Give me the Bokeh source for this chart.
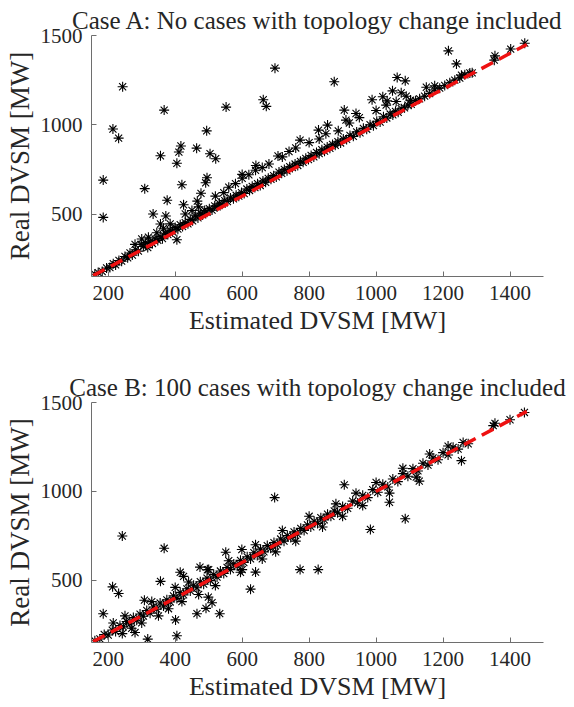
from bokeh.plotting import figure
from bokeh.layouts import column
from bokeh.models import Range1d, FixedTicker
from bokeh.embed import file_html
from bokeh.resources import INLINE

# ---------------- data ----------------
titles = ["Case A: No cases with topology change included",
          "Case B: 100 cases with topology change included"]
x_label = "Estimated DVSM [MW]"
y_label = "Real DVSM [MW]"
x_ticks = [200, 400, 600, 800, 1000, 1200, 1400]
y_ticks = [500, 1000, 1500]
diag_x = [155, 1450]
diag_y = [155, 1450]

# Case A: estimated (x) and real (y)
a_est = [243, 698, 875, 1216, 1240, 663, 672, 552, 367, 214, 231, 494, 417, 411, 405,
         464, 504, 521, 356, 185, 185, 309, 420, 495, 491, 477, 466, 376, 425, 334,
         372, 356, 405, 580, 600, 641, 707, 773, 828, 855, 887, 905, 910, 940, 988,
         1020, 1033, 1049, 1063, 1087, 1075, 1103, 1175, 1255, 1287, 1355, 1353, 1402, 1444,
         160, 170, 182, 195, 205, 215, 222, 232, 240, 250, 258, 265, 272, 282, 290,
         298, 305, 312, 318, 325, 332, 340, 348, 355, 362, 370, 378, 385, 392, 400,
         408, 415, 422, 430, 438, 445, 452, 460, 468, 475, 482, 488, 495, 502, 510,
         518, 525, 532, 540, 548, 556, 565, 574, 582, 590, 598, 606, 614, 622, 630,
         638, 646, 654, 662, 670, 678, 686, 694, 702, 710, 718, 726, 734, 742, 750,
         758, 766, 774, 782, 790, 798, 806, 814, 822, 830, 838, 846, 854, 862, 870,
         878, 886, 894, 902, 912, 922, 932, 942, 952, 962, 972, 982, 992, 1002, 1012,
         1022, 1032, 1042, 1050, 1058, 1066, 1075, 1085, 1095, 1105, 1118, 1130, 1145, 1160, 1175,
         1190, 1205, 1220, 1235, 1250, 1265, 1280,
         280, 300, 320, 345, 365, 385, 430, 450, 470, 520, 545, 560, 600, 620, 640,
         660, 680, 720, 740, 760, 800, 830, 850, 920, 950, 1000, 1030, 1060, 1090, 1150]
a_real = [1213, 1317, 1241, 1414, 1341, 1140, 1103, 1099, 1082, 976, 925, 966, 881, 847, 784,
          869, 838, 810, 826, 690, 481, 642, 664, 703, 675, 616, 572, 577, 552, 500,
          489, 444, 356, 670, 722, 772, 825, 914, 970, 998, 966, 1082, 1026, 1063, 1140,
          1157, 1134, 1190, 1265, 1246, 1179, 1138, 1218, 1278, 1291, 1386, 1362, 1424, 1457,
          163, 172, 178, 198, 200, 222, 215, 240, 236, 262, 255, 282, 270, 300, 292,
          330, 318, 340, 312, 345, 335, 360, 352, 375, 362, 392, 385, 410, 400, 425,
          415, 440, 430, 452, 445, 470, 462, 490, 478, 505, 495, 520, 510, 530, 522,
          545, 540, 560, 555, 575, 570, 590, 585, 605, 600, 620, 615, 640, 632, 655,
          648, 670, 660, 685, 678, 700, 695, 715, 708, 735, 728, 750, 742, 765, 760,
          780, 772, 795, 790, 812, 805, 828, 820, 845, 838, 860, 852, 875, 868, 890,
          885, 905, 898, 920, 918, 940, 935, 960, 955, 980, 975, 1000, 995, 1020, 1015,
          1045, 1038, 1060, 1055, 1075, 1070, 1090, 1095, 1110, 1115, 1135, 1145, 1160, 1175, 1195,
          1205, 1220, 1235, 1250, 1262, 1280, 1290,
          330, 360, 370, 395, 420, 445, 500, 520, 540, 600, 620, 650, 700, 720, 745,
          760, 780, 820, 850, 870, 900, 920, 950, 1010, 1040, 1080, 1110, 1130, 1160, 1210]

# Case B: estimated (x) and real (y)
b_est = [242, 367, 697, 905, 983, 1087, 1040, 1255, 1129, 773, 827, 625, 640, 595, 551,
         599, 533, 465, 492, 499, 510, 401, 405, 318, 280, 242, 213, 231, 185, 356,
         415, 425, 474, 496, 308, 1215, 1355, 1400, 1443,
         160, 175, 188, 200, 212, 222, 235, 245, 255, 265, 275, 285, 295, 305, 315,
         325, 335, 345, 355, 365, 375, 385, 395, 405, 415, 425, 435, 445, 455, 465,
         475, 485, 495, 505, 515, 525, 535, 545, 555, 565, 575, 585, 595, 605, 615,
         625, 635, 645, 655, 665, 675, 685, 695, 705, 715, 725, 735, 745, 755, 765,
         775, 785, 795, 805, 815, 825, 835, 845, 855, 865, 875, 885, 900, 915, 930,
         945, 960, 975, 990, 1005, 1020, 1035, 1050, 1065, 1080, 1095, 1110, 1125, 1140, 1155,
         1170, 1185, 1200, 1215, 1230, 1245, 1260, 1275, 1350,
         215, 250, 270, 300, 330, 350, 380, 400, 420, 440, 470, 500, 520, 560, 600,
         640, 660, 700, 720, 760, 800, 840, 880, 900, 940, 960, 1000, 1040, 1080, 1120, 1160]
b_real = [749, 680, 965, 1037, 786, 846, 939, 1173, 1058, 560, 560, 450, 546, 545, 658,
          673, 312, 312, 342, 405, 374, 277, 188, 169, 206, 200, 463, 426, 312, 494,
          545, 522, 574, 559, 388, 1255, 1383, 1403, 1444,
          160, 170, 195, 192, 220, 212, 245, 238, 268, 255, 290, 275, 310, 298, 330,
          315, 350, 338, 372, 355, 390, 378, 412, 398, 432, 418, 452, 440, 472, 458,
          492, 478, 512, 498, 532, 518, 552, 538, 572, 560, 592, 580, 612, 600, 632,
          620, 655, 640, 675, 660, 695, 680, 712, 700, 732, 720, 752, 740, 772, 760,
          792, 780, 812, 800, 832, 820, 852, 840, 872, 860, 890, 880, 915, 905, 945,
          935, 978, 965, 1010, 995, 1040, 1025, 1070, 1055, 1100, 1085, 1128, 1115, 1158, 1148,
          1188, 1178, 1218, 1205, 1248, 1238, 1275, 1268, 1370,
          260, 300, 230, 260, 380, 300, 340, 460, 380, 490, 420, 560, 470, 610, 560,
          700, 620, 660, 780, 720, 860, 800, 930, 860, 990, 920, 1050, 990, 1130, 1080, 1210]

# ---------------- styling ----------------
FONT = "'Liberation Serif', 'Times New Roman', serif"
TXT = "#262626"
AXC = "#6e6e6e"


def make_fig(title, xs, ys, height, bottom):
    p = figure(width=574, height=height, output_backend="svg", toolbar_location=None,
               x_range=Range1d(150, 1500), y_range=Range1d(150, 1500),
               min_border_left=91, min_border_right=31, min_border_top=35,
               min_border_bottom=bottom, title=title)
    p.title.text_font = FONT
    p.title.text_font_size = "25px"
    p.title.text_font_style = "normal"
    p.title.text_color = TXT
    p.title.align = "center"
    p.title.standoff = 4
    p.outline_line_color = None
    p.grid.grid_line_color = None
    p.background_fill_color = "white"
    p.border_fill_color = "white"

    p.xaxis.ticker = FixedTicker(ticks=x_ticks)
    p.yaxis.ticker = FixedTicker(ticks=y_ticks)
    for ax, lab, lsize in ((p.xaxis, x_label, "26px"), (p.yaxis, y_label, "27px")):
        ax.axis_label = lab
        ax.axis_label_text_font = FONT
        ax.axis_label_text_font_size = lsize
        ax.axis_label_text_font_style = "normal"
        ax.axis_label_text_color = TXT
        ax.major_label_text_font = FONT
        ax.major_label_text_font_size = "21px"
        ax.major_label_text_color = TXT
        ax.axis_line_color = AXC
        ax.major_tick_line_color = AXC
        ax.major_tick_in = 5
        ax.major_tick_out = 0
        ax.minor_tick_line_color = None
        ax.major_label_standoff = 9
        ax.axis_label_standoff = 3

    p.scatter(xs, ys, marker="asterisk", size=10, line_color="black", line_width=1.1)
    p.line(diag_x, diag_y, line_color="#ee1111", line_width=3.5, line_dash="13 7")
    return p


p1 = make_fig(titles[0], a_est, a_real, 367, 91)
p2 = make_fig(titles[1], b_est, b_real, 340, 65)

layout = column(p1, p2, spacing=0)
open("out.html", "w").write(file_html(layout, INLINE))
